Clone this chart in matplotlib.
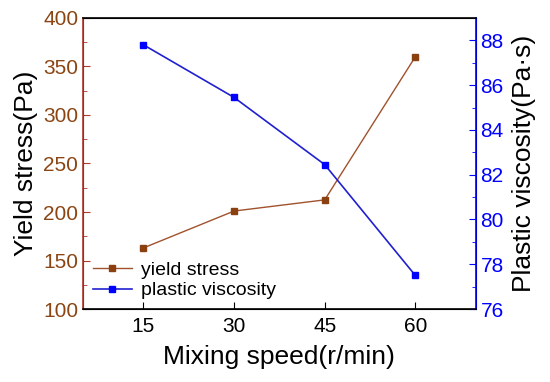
import matplotlib.pyplot as plt
from matplotlib.ticker import MultipleLocator

plt.rcParams['font.family'] = ['Liberation Sans', 'DejaVu Sans']

speed = [15, 30, 45, 60]
yield_stress = [163, 201, 212.5, 360]
plastic_viscosity = [87.8, 85.45, 82.45, 77.5]

red = '#B03A2E'
brown = '#8B4513'
blue = '#0000FF'

fig = plt.figure(figsize=(5.5, 3.82), dpi=100)
ax = fig.add_axes([0.151, 0.191, 0.714, 0.762])
ax2 = ax.twinx()

l1, = ax.plot(speed, yield_stress, color='#A0522D', lw=1, marker='s', ms=5,
              mfc='#8B4010', mec='#8B4010', label='yield stress')
l2, = ax2.plot(speed, plastic_viscosity, color='#2020D0', lw=1.2, marker='s', ms=5,
               mfc=blue, mec=blue, label='plastic viscosity')

ax.set_xlim(5, 70)
ax.set_ylim(100, 400)
ax2.set_ylim(76, 89)
ax.set_xticks(speed)
ax.yaxis.set_major_locator(MultipleLocator(50))
ax.yaxis.set_minor_locator(MultipleLocator(25))
ax2.yaxis.set_minor_locator(MultipleLocator(1))
ax2.set_yticks([76, 78, 80, 82, 84, 86, 88])

ax.tick_params(axis='x', direction='in', length=5, labelsize=15, pad=6)
ax.tick_params(axis='y', which='both', direction='in', colors=red, labelcolor=brown, labelsize=15)
ax.tick_params(axis='y', which='major', length=5)
ax.tick_params(axis='y', which='minor', length=3)
ax2.tick_params(axis='y', which='both', direction='in', colors=blue, labelcolor=blue, labelsize=15)
ax2.tick_params(axis='y', which='major', length=5)
ax2.tick_params(axis='y', which='minor', length=3)

ax2.spines['left'].set_color(red)
ax2.spines['right'].set_color(blue)
for s in ax2.spines.values():
    s.set_linewidth(1.2)

ax.set_xlabel('Mixing speed(r/min)', fontsize=19, labelpad=6)
ax.set_ylabel('Yield stress(Pa)', fontsize=19, labelpad=4)
ax2.set_ylabel('Plastic viscosity(Pa·s)', fontsize=19, labelpad=6)

ax.legend(handles=[l1, l2], loc='lower left', frameon=False, fontsize=14,
          handlelength=2.0, borderaxespad=0.1, labelspacing=0.15, handletextpad=0.5)

fig.savefig('out.png', dpi=100)
